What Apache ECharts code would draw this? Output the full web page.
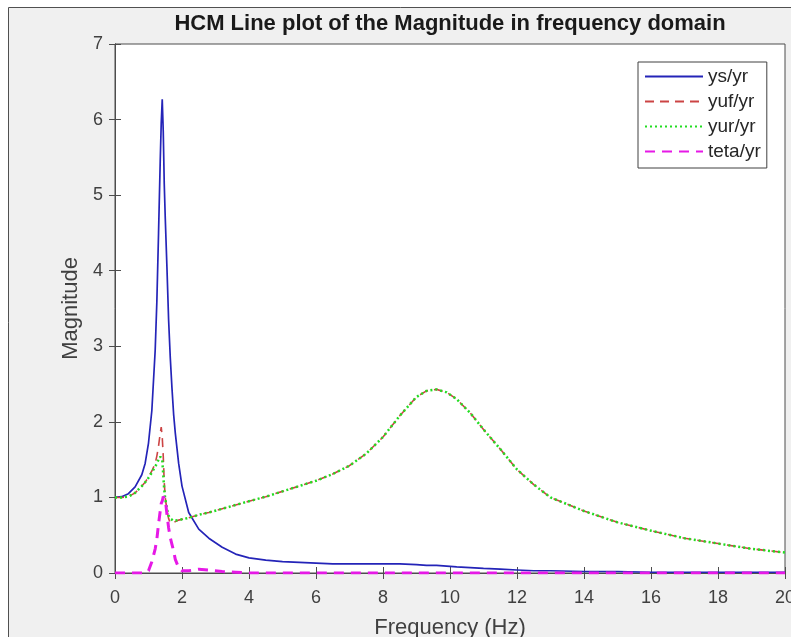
<!DOCTYPE html>
<html>
  <head>
    <meta charset="UTF-8">
    <script src="https://cdn.jsdelivr.net/npm/echarts@6/dist/echarts.min.js"></script>
    <title>HCM Line plot</title>
  </head>
  <body style="margin:0;background:#fff;">
    <div id="main" style="width:791px;height:637px;"></div>
  </body>
  <script>
// frequency samples (Hz)
var freq = [0, 0.2, 0.4, 0.6, 0.8, 0.9, 1.0, 1.1, 1.2, 1.25, 1.3, 1.35, 1.38, 1.41, 1.44, 1.47, 1.5, 1.55, 1.6, 1.65,
  1.7, 1.75, 1.8, 1.9, 2.0, 2.2, 2.5, 2.8, 3.2, 3.6, 4, 4.5, 5, 5.5, 6, 6.5, 7, 7.5, 8, 8.5,
  9, 9.3, 9.6, 9.9, 10.2, 10.6, 11, 11.5, 12, 12.5, 13, 14, 15, 16, 17, 18, 19, 20];

var ysYr = [1.00, 1.01, 1.05, 1.14, 1.30, 1.45, 1.72, 2.15, 2.95, 3.6, 4.5, 5.45, 5.95, 6.27, 5.85, 5.15, 4.7, 4.05, 3.35, 2.85,
  2.45, 2.1, 1.85, 1.45, 1.15, 0.8, 0.58, 0.46, 0.34, 0.25, 0.2, 0.17, 0.15, 0.14, 0.13, 0.12, 0.12, 0.12, 0.12, 0.12,
  0.11, 0.1, 0.1, 0.09, 0.08, 0.07, 0.06, 0.05, 0.04, 0.03, 0.03, 0.02, 0.02, 0.01, 0.01, 0.01, 0.01, 0.01];

var yufYr = [1.00, 1.00, 1.01, 1.06, 1.15, 1.20, 1.27, 1.35, 1.45, 1.55, 1.68, 1.85, 1.93, 1.8, 1.55, 1.2, 1.0, 0.83, 0.72, 0.66,
  0.66, 0.67, 0.68, 0.70, 0.71, 0.73, 0.77, 0.80, 0.85, 0.90, 0.95, 1.01, 1.08, 1.15, 1.22, 1.31, 1.42, 1.58, 1.80, 2.08,
  2.33, 2.41, 2.43, 2.39, 2.30, 2.12, 1.90, 1.64, 1.37, 1.17, 1.00, 0.82, 0.67, 0.56, 0.46, 0.39, 0.32, 0.27];

var yurYr = [1.00, 1.00, 1.01, 1.06, 1.15, 1.20, 1.26, 1.33, 1.41, 1.45, 1.50, 1.54, 1.56, 1.5, 1.3, 1.1, 0.98, 0.85, 0.76, 0.72,
  0.70, 0.69, 0.69, 0.70, 0.71, 0.73, 0.77, 0.80, 0.85, 0.90, 0.95, 1.01, 1.08, 1.15, 1.22, 1.31, 1.42, 1.58, 1.80, 2.08,
  2.33, 2.41, 2.43, 2.39, 2.30, 2.12, 1.90, 1.64, 1.37, 1.17, 1.00, 0.82, 0.67, 0.56, 0.46, 0.39, 0.32, 0.27];

var tetaYr = [0, 0, 0, 0, 0, 0, 0.03, 0.15, 0.32, 0.45, 0.65, 0.82, 0.92, 0.95, 1.01, 1.03, 0.98, 0.78, 0.6, 0.47,
  0.38, 0.29, 0.18, 0.07, 0.03, 0.03, 0.05, 0.04, 0.02, 0.01, 0, 0, 0, 0, 0, 0, 0, 0, 0, 0,
  0, 0, 0, 0, 0, 0, 0, 0, 0, 0, 0, 0, 0, 0, 0, 0, 0, 0];

var seriesNames = ['ys/yr', 'yuf/yr', 'yur/yr', 'teta/yr'];

function pairs(vals) {
  return freq.map(function (f, i) { return [f, vals[i]]; });
}

var chart = echarts.init(document.getElementById('main'));
var axisColor = '#4d4d4d';
var font = 'Liberation Sans, Arial, sans-serif';

option = {
  backgroundColor: '#fff',
  animation: false,
  textStyle: { fontFamily: font },
  graphic: [
    {
      type: 'rect', z: -10,
      shape: { x: 8.5, y: 7.5, width: 800, height: 700 },
      style: { fill: '#f0f0f0', stroke: '#505050', lineWidth: 1 }
    },
    {
      type: 'text', x: 450, y: 13,
      style: {
        text: 'HCM Line plot of the Magnitude in frequency domain',
        font: 'bold 22px ' + font, fill: '#1a1a1a', textAlign: 'center'
      }
    }
  ],
  legend: {
    data: seriesNames,
    orient: 'vertical',
    left: 638, top: 62,
    itemWidth: 58, itemHeight: 14, itemGap: 6,
    padding: [5, 6, 7, 6],
    backgroundColor: '#fff',
    borderColor: '#404040', borderWidth: 1,
    itemStyle: { opacity: 0 },
    textStyle: { fontSize: 19, color: '#262626', fontFamily: font }
  },
  grid: {
    left: 115, right: 6, top: 44, bottom: 64,
    outerBoundsMode: 'none',
    show: true, backgroundColor: '#fff', borderColor: axisColor, borderWidth: 1
  },
  xAxis: [
    {
      type: 'value', min: 0, max: 20, interval: 2,
      name: 'Frequency (Hz)', nameLocation: 'middle', nameGap: 44,
      nameTextStyle: { fontSize: 22, color: '#404040' },
      axisLine: { lineStyle: { color: axisColor } },
      axisTick: { inside: true, length: 6, lineStyle: { color: axisColor } },
      axisLabel: { fontSize: 18, color: '#404040', margin: 16 },
      splitLine: { show: false }
    },
    {
      type: 'value', min: 0, max: 20, interval: 2, position: 'top',
      axisLine: { lineStyle: { color: axisColor } },
      axisTick: { inside: true, length: 6, lineStyle: { color: axisColor } },
      axisLabel: { show: false },
      splitLine: { show: false }
    }
  ],
  yAxis: [
    {
      type: 'value', min: 0, max: 7, interval: 1,
      name: 'Magnitude', nameLocation: 'middle', nameGap: 25,
      nameTextStyle: { fontSize: 22, color: '#404040' },
      axisLine: { show: true, lineStyle: { color: axisColor } },
      axisTick: { show: true, inside: true, length: 6, lineStyle: { color: axisColor } },
      axisLabel: { fontSize: 18, color: '#404040', margin: 12 },
      splitLine: { show: false }
    },
    {
      type: 'value', min: 0, max: 7, interval: 1, position: 'right',
      axisLine: { show: true, lineStyle: { color: axisColor } },
      axisTick: { show: true, inside: true, length: 6, lineStyle: { color: axisColor } },
      axisLabel: { show: false },
      splitLine: { show: false }
    }
  ],
  series: [
    {
      name: 'ys/yr', type: 'line', symbol: 'none', data: pairs(ysYr),
      color: '#2424b8', lineStyle: { width: 1.7, color: '#2424b8' }
    },
    {
      name: 'yuf/yr', type: 'line', symbol: 'none', data: pairs(yufYr),
      color: '#cc4444', lineStyle: { width: 1.6, color: '#cc4444', type: [9, 6] }
    },
    {
      name: 'yur/yr', type: 'line', symbol: 'none', data: pairs(yurYr),
      color: '#22dd22', lineStyle: { width: 2.5, color: '#22dd22', type: [2, 3] }
    },
    {
      name: 'teta/yr', type: 'line', symbol: 'none', data: pairs(tetaYr),
      color: '#e619e6', lineStyle: { width: 3, color: '#e619e6', type: [10, 7] }
    }
  ]
};

chart.setOption(option);
  </script>
</html>
